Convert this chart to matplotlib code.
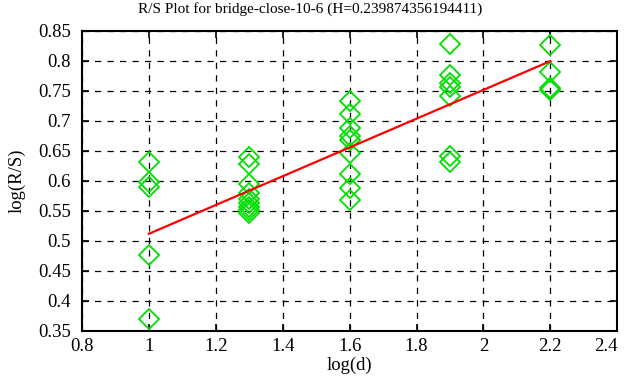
import numpy as np
import matplotlib
matplotlib.use("Agg")
import matplotlib.pyplot as plt

plt.rcParams['font.family'] = ['Liberation Serif', 'DejaVu Serif']

# log(d) groups and log(R/S) values
x_groups = [1.0, 1.3, 1.6, 1.9, 2.2]
y_1_0 = [0.632, 0.598, 0.590, 0.477, 0.369]
y_1_3 = [0.640, 0.628, 0.595, 0.580, 0.570, 0.563, 0.557, 0.552, 0.546]
y_1_6 = [0.733, 0.711, 0.688, 0.675, 0.668, 0.646, 0.612, 0.588, 0.569]
y_1_9 = [0.829, 0.776, 0.764, 0.756, 0.742, 0.642, 0.631]
y_2_2 = [0.826, 0.782, 0.755, 0.752]
y_groups = [y_1_0, y_1_3, y_1_6, y_1_9, y_2_2]

H = 0.239874356194411
intercept = 0.272

xs = np.concatenate([[x] * len(ys) for x, ys in zip(x_groups, y_groups)])
ys = np.concatenate(y_groups)

fig = plt.figure(figsize=(6.26, 3.87), dpi=100)
ax = fig.add_axes([0.131, 0.145, 0.855, 0.775])

ax.plot(xs, ys, linestyle='none', marker='D', markersize=10,
        markerfacecolor='none', markeredgecolor='#00e000', markeredgewidth=1.3)
xl = np.array([x_groups[0], x_groups[-1]])
ax.plot(xl, intercept + H * xl, color='red', linewidth=1.6)

ax.set_xlim(0.8, 2.4)
ax.set_ylim(0.35, 0.85)
ax.set_xticks(np.arange(0.8, 2.41, 0.2))
ax.set_yticks(np.arange(0.35, 0.851, 0.05))
ax.set_xticklabels(['0.8', '1', '1.2', '1.4', '1.6', '1.8', '2', '2.2', '2.4'])
ax.set_yticklabels(['0.35', '0.4', '0.45', '0.5', '0.55', '0.6', '0.65',
                    '0.7', '0.75', '0.8', '0.85'])
ax.get_xticklabels()[-1].set_horizontalalignment('right')
ax.grid(True, color='black', linestyle=(0, (5, 5)), linewidth=0.9)
ax.tick_params(direction='in', top=True, right=True, length=5,
               labelsize=13.5, width=1.2)
ax.tick_params(axis='y', pad=8)
ax.tick_params(axis='x', pad=5)
for s in ax.spines.values():
    s.set_linewidth(1.5)

fig.suptitle('R/S Plot for bridge-close-10-6 (H=0.239874356194411)',
             fontsize=11, x=0.495, y=0.995, va='top')
ax.set_xlabel('log(d)', fontsize=13.5, labelpad=1)
ax.set_ylabel('log(R/S)', fontsize=13.5, labelpad=9)

fig.savefig('out.png', dpi=100)
